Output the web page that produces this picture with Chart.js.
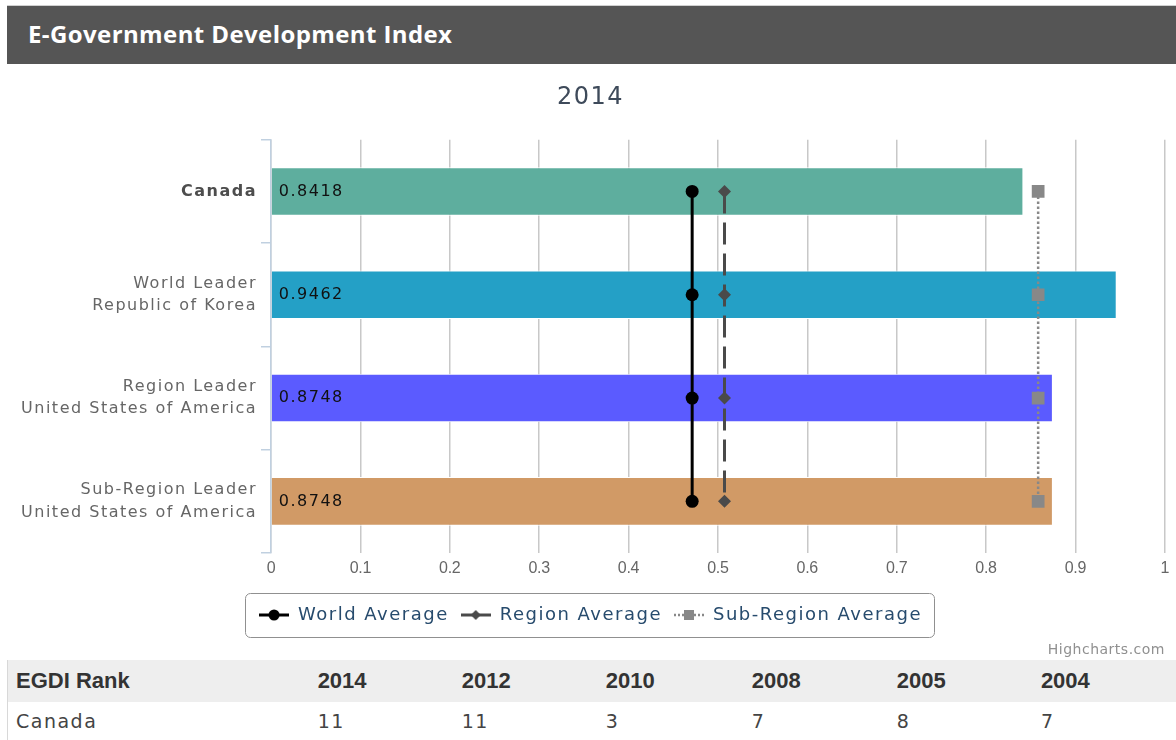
<!DOCTYPE html>
<html>
<head>
<meta charset="utf-8">
<script src="https://cdn.jsdelivr.net/npm/chart.js@4.4.0/dist/chart.umd.min.js"></script>
<style>
  body { margin: 0; background: #fff; width: 1176px; height: 740px; position: relative; overflow: hidden; }
  #head { position: absolute; left: 7px; top: 5px; width: 1169px; height: 59px; background: #555555;
          border-top: 1px solid #d0d0d0; box-sizing: border-box; }
  #head span { position: absolute; left: 21px; top: 11px; color: #fff; font: bold 24px "Open Sans", sans-serif; letter-spacing: 0.4px; }
  #wrap { position: absolute; left: 7px; top: 64px; width: 1169px; height: 596px; }
  #credit { position: absolute; right: 11px; top: 641px; font: 14px "DejaVu Sans", sans-serif; letter-spacing: 0.5px; color: #909090; }
  #rank { position: absolute; left: 7px; top: 660px; width: 1169px; border-collapse: collapse; table-layout: fixed; border-left: 1px solid #d8d8d8; }
  #rank th, #rank td { box-sizing: border-box; padding: 0; text-align: left; }
  #rank th { background: #eeeeee; height: 42px; font: bold 22px "Liberation Sans", sans-serif; color: #333; }
  #rank td { height: 38px; font: 19px "DejaVu Sans", sans-serif; letter-spacing: 1.5px; color: #444; }
</style>
</head>
<body>
<div id="head"><span>E-Government Development Index</span></div>
<div id="wrap"><canvas id="chart" width="1169" height="596"></canvas></div>
<div id="credit">Highcharts.com</div>
<table id="rank"><thead><tr id="rankHead"></tr></thead><tbody><tr id="rankRow"></tr></tbody></table>

<script>
// --- data ---
const categories = [
  ["Canada"],
  ["World Leader", "Republic of Korea"],
  ["Region Leader", "United States of America"],
  ["Sub-Region Leader", "United States of America"]
];
const egdiValues = [0.8418, 0.9462, 0.8748, 0.8748];
const barColors = ["#5eae9e", "#24a0c6", "#5b5bff", "#d19a66"];
const worldAverage = [0.4712, 0.4712, 0.4712, 0.4712];
const regionAverage = [0.5074, 0.5074, 0.5074, 0.5074];
const subRegionAverage = [0.8583, 0.8583, 0.8583, 0.8583];
const xTicks = ["0", "0.1", "0.2", "0.3", "0.4", "0.5", "0.6", "0.7", "0.8", "0.9", "1"];

const rankYears = ["2014", "2012", "2010", "2008", "2005", "2004"];
const canadaRanks = ["11", "11", "3", "7", "8", "7"];

// --- rank table ---
const colW = [310, 144, 144, 146, 145, 144, 135];
const headRow = document.getElementById("rankHead");
const bodyRow = document.getElementById("rankRow");
["EGDI Rank", ...rankYears].forEach((t, i) => {
  const th = document.createElement("th");
  th.textContent = t;
  th.style.width = colW[i] + "px";
  if (i === 0) th.style.paddingLeft = "8px";
  headRow.appendChild(th);
});
["Canada", ...canadaRanks].forEach((t, i) => {
  const td = document.createElement("td");
  td.textContent = t;
  if (i === 0) td.style.paddingLeft = "8px";
  bodyRow.appendChild(td);
});

// --- legend icons: line segment with marker ---
function legendIcon(ds) {
  const c = document.createElement("canvas");
  c.width = 30; c.height = 14;
  const g = c.getContext("2d");
  g.strokeStyle = ds.borderColor;
  g.lineWidth = ds.borderWidth;
  g.setLineDash(ds.legendDash || []);
  g.beginPath(); g.moveTo(0, 7); g.lineTo(30, 7); g.stroke();
  g.setLineDash([]);
  g.fillStyle = ds.pointBackgroundColor;
  if (ds.pointStyle === "circle") {
    g.beginPath(); g.arc(15, 7, 5.5, 0, Math.PI * 2); g.fill();
  } else if (ds.pointStyle === "rectRot") {
    g.beginPath(); g.moveTo(15, 2); g.lineTo(20, 7); g.lineTo(15, 12); g.lineTo(10, 7); g.closePath(); g.fill();
  } else {
    g.fillRect(10, 2, 10, 10);
  }
  return c;
}

// --- wider letter spacing for canvas text (x tick labels drawn later, tighter) ---
const spacing = {
  id: "spacing",
  beforeUpdate(chart) { chart.ctx.letterSpacing = "1.5px"; },
  beforeDraw(chart) { chart.ctx.letterSpacing = "1.5px"; }
};

// --- value labels inside bars ---
const barLabels = {
  id: "barLabels",
  afterDatasetsDraw(chart) {
    const ctx = chart.ctx;
    const meta = chart.getDatasetMeta(0);
    ctx.save();
    ctx.font = "16px 'DejaVu Sans'";
    ctx.fillStyle = "#111";
    ctx.textBaseline = "middle";
    meta.data.forEach((bar, i) => {
      ctx.fillText(egdiValues[i].toFixed(4), bar.base + 7, bar.y);
    });
    ctx.restore();
    ctx.letterSpacing = "-0.3px";
  }
};

// --- rounded frame around legend ---
const legendFrame = {
  id: "legendFrame",
  afterDraw(chart) {
    const boxes = chart.legend.legendHitBoxes;
    if (!boxes.length) return;
    const l = Math.min(...boxes.map(b => b.left)) - 14;
    const r = Math.max(...boxes.map(b => b.left + b.width)) + 12;
    const t = boxes[0].top - 13;
    const b = boxes[0].top + boxes[0].height + 13;
    const ctx = chart.ctx;
    ctx.save();
    ctx.strokeStyle = "#909090";
    ctx.lineWidth = 1;
    ctx.beginPath();
    ctx.roundRect(Math.round(l) + 0.5, Math.round(t) + 0.5, Math.round(r - l), Math.round(b - t), 5);
    ctx.stroke();
    ctx.restore();
  }
};

const lineCommon = { type: "line", order: 0, fill: false };

new Chart(document.getElementById("chart"), {
  data: {
    labels: categories,
    datasets: [
      {
        type: "bar", label: "EGDI", data: egdiValues, order: 1,
        backgroundColor: barColors, borderColor: "#ffffff", borderWidth: 1,
        categoryPercentage: 1, barPercentage: 0.47
      },
      {
        ...lineCommon, label: "World Average", data: worldAverage,
        borderColor: "#000000", borderWidth: 3,
        pointStyle: "circle", pointRadius: 6.5, pointBackgroundColor: "#000000", pointBorderWidth: 0
      },
      {
        ...lineCommon, label: "Region Average", data: regionAverage,
        borderColor: "#4a4a4a", borderWidth: 3, borderDash: [22, 9], legendDash: [],
        pointStyle: "rectRot", pointRadius: 6.5, pointBackgroundColor: "#4a4a4a", pointBorderWidth: 0
      },
      {
        ...lineCommon, label: "Sub-Region Average", data: subRegionAverage,
        borderColor: "#888888", borderWidth: 2.5, borderDash: [2.5, 2.5], legendDash: [2, 2],
        pointStyle: "rect", pointRadius: 9, pointBackgroundColor: "#888888", pointBorderWidth: 0
      }
    ]
  },
  options: {
    indexAxis: "y",
    responsive: false,
    devicePixelRatio: 1,
    animation: false,
    layout: { padding: { left: 0, right: 2, top: 0, bottom: 26 } },
    plugins: {
      title: {
        display: true, text: "2014", color: "#3e4a5a",
        font: { family: "'DejaVu Sans'", size: 24, weight: "normal" },
        padding: { top: 19, bottom: 28 }
      },
      legend: {
        position: "bottom",
        labels: {
          usePointStyle: true, pointStyleWidth: 30, padding: 12,
          color: "#274b6d",
          font: { family: "'DejaVu Sans'", size: 18 },
          generateLabels: chart => chart.data.datasets
            .map((ds, i) => ({
              text: ds.label, datasetIndex: i, pointStyle: legendIcon(ds),
              fontColor: "#274b6d", lineWidth: 0, hidden: false
            }))
            .filter(item => chart.data.datasets[item.datasetIndex].type === "line")
        },
        onClick: () => {}
      },
      tooltip: { enabled: false }
    },
    scales: {
      x: {
        type: "linear", min: 0, max: 1,
        afterFit: s => { s.height = 41; },
        grid: { color: "#c8c8c8", lineWidth: 1.5, drawTicks: false },
        border: { display: false },
        ticks: {
          z: 1,
          stepSize: 0.1, padding: 6, color: "#666",
          font: { family: "'Liberation Sans'", size: 16 },
          callback: (v, i) => xTicks[i]
        }
      },
      y: {
        type: "category",
        afterFit: s => { s.width = 264; },
        grid: { offset: true, drawOnChartArea: false, drawTicks: true, tickLength: 10, color: "#c0d0e0", lineWidth: 1.5 },
        border: { color: "#c0d0e0", width: 1.5 },
        ticks: {
          padding: 4,
          color: ctx => ctx.index === 0 ? "#4d4d4d" : "#666666",
          font: ctx => ({
            family: "'DejaVu Sans'", size: 16, lineHeight: 1.4,
            weight: ctx.index === 0 ? "bold" : "normal"
          })
        }
      }
    }
  },
  plugins: [spacing, barLabels, legendFrame]
});
</script>
</body>
</html>
